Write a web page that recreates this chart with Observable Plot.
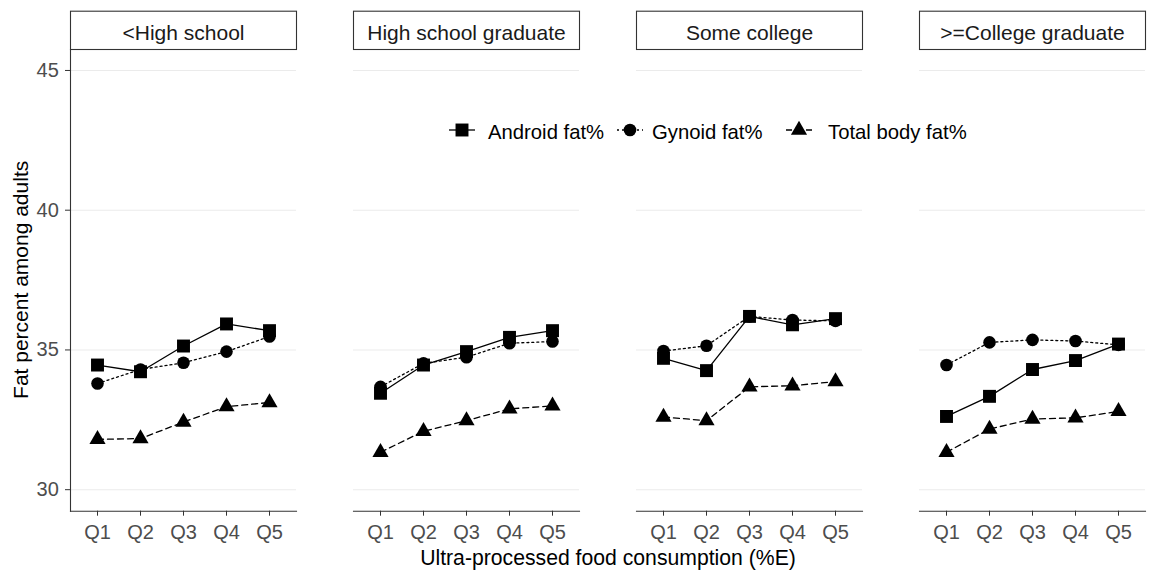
<!DOCTYPE html>
<html>
<head>
<meta charset="utf-8">
<script src="https://cdn.jsdelivr.net/npm/d3@7"></script>
<script src="https://cdn.jsdelivr.net/npm/@observablehq/plot@0.6"></script>
<style>
  html, body { margin: 0; padding: 0; background: #fff; }
  #chart { width: 1152px; height: 576px; }
</style>
</head>
<body>
<div id="chart"></div>
<script>
// ---- data ----
const quintiles = ["Q1", "Q2", "Q3", "Q4", "Q5"];
const education = ["<High school", "High school graduate", "Some college", ">=College graduate"];
const measures = ["Android fat%", "Gynoid fat%", "Total body fat%"];
const yTicks = [30, 35, 40, 45];

// one row per education level, one value per quintile
const androidFat = [
  [34.46, 34.22, 35.14, 35.93, 35.69],
  [33.45, 34.46, 34.94, 35.45, 35.69],
  [34.70, 34.26, 36.20, 35.90, 36.12],
  [32.62, 33.34, 34.30, 34.62, 35.21]
];
const gynoidFat = [
  [33.80, 34.30, 34.54, 34.94, 35.48],
  [33.68, 34.52, 34.74, 35.24, 35.30],
  [34.96, 35.15, 36.20, 36.07, 36.04],
  [34.46, 35.27, 35.36, 35.32, 35.18]
];
const totalFat = [
  [31.80, 31.83, 32.42, 32.97, 33.12],
  [31.34, 32.09, 32.47, 32.89, 33.00],
  [32.60, 32.47, 33.68, 33.72, 33.87],
  [31.34, 32.17, 32.53, 32.57, 32.80]
];

const xTitle = "Ultra-processed food consumption (%E)";
const yTitle = "Fat percent among adults";

// ---- table ----
const series = [androidFat, gynoidFat, totalFat];
const rows = [];
measures.forEach((m, k) => {
  education.forEach((e, i) => {
    quintiles.forEach((q, j) => {
      rows.push({measure: m, edu: e, q, value: series[k][i][j]});
    });
  });
});

// ---- styles ----
const FONT = "'Liberation Sans', Arial, Helvetica, sans-serif";
const W = 1152, H = 576;
const mTop = 49, mBottom = 65.3, mLeft = 70, mRight = 6;
const panelH = H - mTop - mBottom;
const stripH = 38.3;
const styleOf = {
  "Android fat%":    {symbol: "square",   r: 7.3, dash: null},
  "Gynoid fat%":     {symbol: "circle",   r: 6.3, dash: "2,3"},
  "Total body fat%": {symbol: "triangle", r: 6.0, dash: "6,4"}
};

const lineMarks = measures.map(m => Plot.line(rows.filter(d => d.measure === m), {
  x: "q", y: "value", fx: "edu",
  stroke: "#000", strokeWidth: 1.3,
  strokeDasharray: styleOf[m].dash
}));
const dotMarks = measures.map(m => Plot.dot(rows.filter(d => d.measure === m), {
  x: "q", y: "value", fx: "edu",
  symbol: () => styleOf[m].symbol, r: styleOf[m].r,
  fill: "#000", stroke: "none"
}));

const chart = Plot.plot({
  width: W,
  height: H,
  marginTop: mTop,
  marginBottom: mBottom,
  marginLeft: mLeft,
  marginRight: mRight,
  facet: {marginTop: 0, marginBottom: 0, marginLeft: 0, marginRight: 0},
  style: {fontFamily: FONT, background: "#fff"},
  x: {type: "point", domain: quintiles, padding: 0.6},
  y: {domain: [29.23, 45.75]},
  fx: {domain: education, paddingInner: 0.2, paddingOuter: 0, axis: null},
  symbol: {type: "identity"},
  marks: [
    Plot.gridY(yTicks, {stroke: "#ebebeb", strokeOpacity: 1, strokeWidth: 1.1}),
    Plot.frame({anchor: "bottom", stroke: "#333", strokeWidth: 1.1}),
    Plot.frame({anchor: "left", facetAnchor: "left", stroke: "#333", strokeWidth: 1.1}),
    Plot.frame({insetTop: -stripH, insetBottom: panelH, fill: "#fff", stroke: "#333", strokeWidth: 1.1}),
    Plot.text(education, {fx: d => d, text: d => d, frameAnchor: "top", lineAnchor: "middle", dy: -16.3, fontSize: 21, fill: "#1a1a1a"}),
    Plot.axisY({ticks: yTicks, tickSize: 5, tickPadding: 6.7, fontSize: 20, stroke: "#333", fill: "#4d4d4d", label: null}),
    Plot.axisX({tickSize: 5, tickPadding: 9, fontSize: 20, stroke: "#333", fill: "#4d4d4d", label: null}),
    ...lineMarks,
    ...dotMarks
  ]
});

document.getElementById("chart").appendChild(chart);

// ---- axis titles and legend, added into the SVG ----
const svg = d3.select(chart);
svg.append("text")
  .attr("x", mLeft + (W - mLeft - mRight) / 2)
  .attr("y", 565)
  .attr("text-anchor", "middle")
  .attr("font-family", FONT)
  .attr("font-size", 21.2)
  .attr("fill", "#000")
  .text(xTitle);
svg.append("text")
  .attr("transform", `translate(28, ${mTop + panelH / 2}) rotate(-90)`)
  .attr("text-anchor", "middle")
  .attr("font-family", FONT)
  .attr("font-size", 21)
  .attr("fill", "#000")
  .text(yTitle);

const legendItems = [
  {m: measures[0], keyX: 462, textX: 488},
  {m: measures[1], keyX: 630, textX: 652},
  {m: measures[2], keyX: 799, textX: 828}
];
const legendY = 130;
const symType = {square: d3.symbolSquare, circle: d3.symbolCircle, triangle: d3.symbolTriangle};
const lg = svg.append("g").attr("text-anchor", "start");
legendItems.forEach(it => {
  const st = styleOf[it.m];
  lg.append("line")
    .attr("x1", it.keyX - 13).attr("x2", it.keyX + 13)
    .attr("y1", legendY).attr("y2", legendY)
    .attr("stroke", "#000").attr("stroke-width", 1.3)
    .attr("stroke-dasharray", st.dash);
  lg.append("path")
    .attr("transform", `translate(${it.keyX},${legendY})`)
    .attr("d", d3.symbol(symType[st.symbol], st.r * st.r * Math.PI)())
    .attr("fill", "#000");
  lg.append("text")
    .attr("x", it.textX).attr("y", legendY + 8.5)
    .attr("text-anchor", "start")
    .attr("font-family", FONT)
    .attr("font-size", 20.3)
    .attr("fill", "#000")
    .text(it.m);
});
</script>
</body>
</html>
